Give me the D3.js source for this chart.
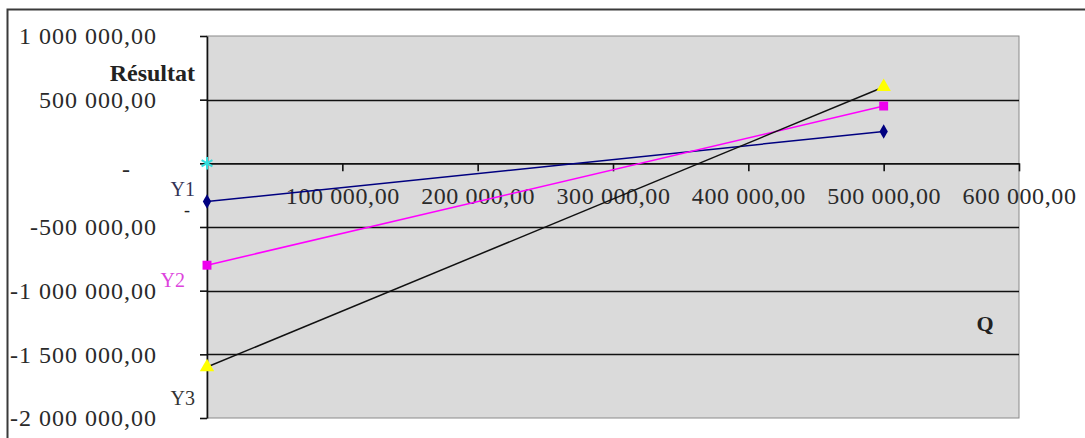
<!DOCTYPE html>
<html>
<head>
<meta charset="utf-8">
<script src="https://cdn.jsdelivr.net/npm/d3@7"></script>
<style>
  html, body { margin: 0; padding: 0; background: #ffffff; }
  svg { display: block; }
</style>
</head>
<body>
<svg id="chart" width="1085" height="438"></svg>
<script>
// ---- data ----
const qValues   = [0, 500000];
const y1Values  = [-300000, 250000];
const y2Values  = [-800000, 450000];
const y3Values  = [-1600000, 600000];
const originQ   = [0];
const originY   = [0];
const seriesNames = ["Y1", "Y2", "Y3"];
const xTicks = [100000, 200000, 300000, 400000, 500000, 600000];
const yTicks = [1000000, 500000, 0, -500000, -1000000, -1500000, -2000000];
const yTitle = "Résultat";
const xTitle = "Q";

// ---- layout ----
const svg = d3.select("#chart");
const L = 207, R = 1019, T = 36, B = 418;
const x = d3.scaleLinear().domain([0, 600000]).range([L, R]);
const y = d3.scaleLinear().domain([-2000000, 1000000]).range([B, T]);

const loc = d3.formatLocale({decimal: ",", thousands: " ", grouping: [3], currency: ["", ""], minus: "-"});
const f2 = loc.format(",.2f");
const fmt = v => v === 0 ? "-" : f2(v);

// outer chart frame
svg.append("rect").attr("x", 7.5).attr("y", 9.5).attr("width", 1100).attr("height", 460)
  .attr("fill", "#ffffff").attr("stroke", "#3a3a3a").attr("stroke-width", 2);

// plot area
svg.append("rect").attr("x", L).attr("y", T).attr("width", R - L).attr("height", B - T)
  .attr("fill", "#dadada").attr("stroke", "#8a8a8a").attr("stroke-width", 1);

// gridlines
svg.append("g").selectAll("line")
  .data(yTicks.filter(v => v !== 0 && v !== 1000000 && v !== -2000000))
  .join("line")
  .attr("x1", L).attr("x2", R)
  .attr("y1", d => Math.round(y(d)) + 0.5).attr("y2", d => Math.round(y(d)) + 0.5)
  .attr("stroke", "#111").attr("stroke-width", 1.6);

const font = "'Liberation Serif', 'Times New Roman', serif";

// y axis
const gy = svg.append("g").attr("transform", `translate(${L},0)`)
  .call(d3.axisLeft(y).tickValues(yTicks).tickSize(7).tickSizeOuter(0).tickPadding(43).tickFormat(fmt));
gy.select(".domain").attr("stroke", "#111").attr("stroke-width", 1.6);
gy.selectAll(".tick line").attr("stroke", "#111").attr("stroke-width", 1.6);
gy.selectAll("text").attr("font-family", font).attr("font-size", 24).attr("letter-spacing", "1px").attr("fill", "#2a2a2a");
gy.selectAll(".tick").filter(d => d === 0).select("text").attr("x", -76).attr("dy", "0.55em");

// x axis
const gx = svg.append("g").attr("transform", `translate(0,${y(0)})`)
  .call(d3.axisBottom(x).tickValues(xTicks).tickSize(8).tickSizeOuter(0).tickPadding(16).tickFormat(fmt));
gx.select(".domain").attr("stroke", "#111").attr("stroke-width", 1.6);
gx.selectAll(".tick line").attr("stroke", "#111").attr("stroke-width", 1.6);
gx.selectAll("text").attr("font-family", font).attr("font-size", 24).attr("letter-spacing", "0.6px").attr("fill", "#2a2a2a");

// axis titles
svg.append("text").attr("x", 195).attr("y", 81).attr("text-anchor", "end")
  .attr("font-family", font).attr("font-weight", "bold").attr("font-size", 24).attr("fill", "#222")
  .text(yTitle);
svg.append("text").attr("x", 985).attr("y", 331).attr("text-anchor", "middle")
  .attr("font-family", font).attr("font-weight", "bold").attr("font-size", 22).attr("fill", "#222")
  .text(xTitle);

// series
const series = [
  {name: seriesNames[0], vals: y1Values, line: "#000080", mark: "#000080", sym: d3.symbolDiamond, size: 60, lab: "#333355", lx: 195, ly: 196},
  {name: seriesNames[1], vals: y2Values, line: "#ff00ff", mark: "#ee00ee", sym: d3.symbolSquare, size: 80, lab: "#dd44dd", lx: 185, ly: 287},
  {name: seriesNames[2], vals: y3Values, line: "#111111", mark: "#ffff00", sym: d3.symbolTriangle, size: 90, lab: "#333333", lx: 195, ly: 405}
];
const lineGen = d3.line().x(d => x(d[0])).y(d => y(d[1]));

series.forEach(s => {
  const pts = qValues.map((q, i) => [q, s.vals[i]]);
  svg.append("path").datum(pts).attr("d", lineGen)
    .attr("fill", "none").attr("stroke", s.line).attr("stroke-width", 1.5);
});
series.forEach(s => {
  const pts = qValues.map((q, i) => [q, s.vals[i]]);
  svg.append("g").selectAll("path").data(pts).join("path")
    .attr("transform", d => `translate(${x(d[0])},${y(d[1])})`)
    .attr("d", d3.symbol().type(s.sym).size(s.size))
    .attr("fill", s.mark);
  svg.append("text").attr("x", s.lx).attr("y", s.ly).attr("text-anchor", "end")
    .attr("font-family", font).attr("font-size", 20).attr("fill", s.lab).text(s.name);
});

// dash label under Y1
svg.append("text").attr("x", 190).attr("y", 216).attr("text-anchor", "end")
  .attr("font-family", font).attr("font-size", 18).attr("fill", "#222").text(fmt(0));

// origin marker (cyan)
svg.append("g").selectAll("path").data(originQ.map((q, i) => [q, originY[i]])).join("path")
  .attr("transform", d => `translate(${x(d[0])},${y(d[1])})`)
  .attr("d", d3.symbol().type(d3.symbolAsterisk).size(110))
  .attr("fill", "none").attr("stroke", "#33dddd").attr("stroke-width", 2);
</script>
</body>
</html>
